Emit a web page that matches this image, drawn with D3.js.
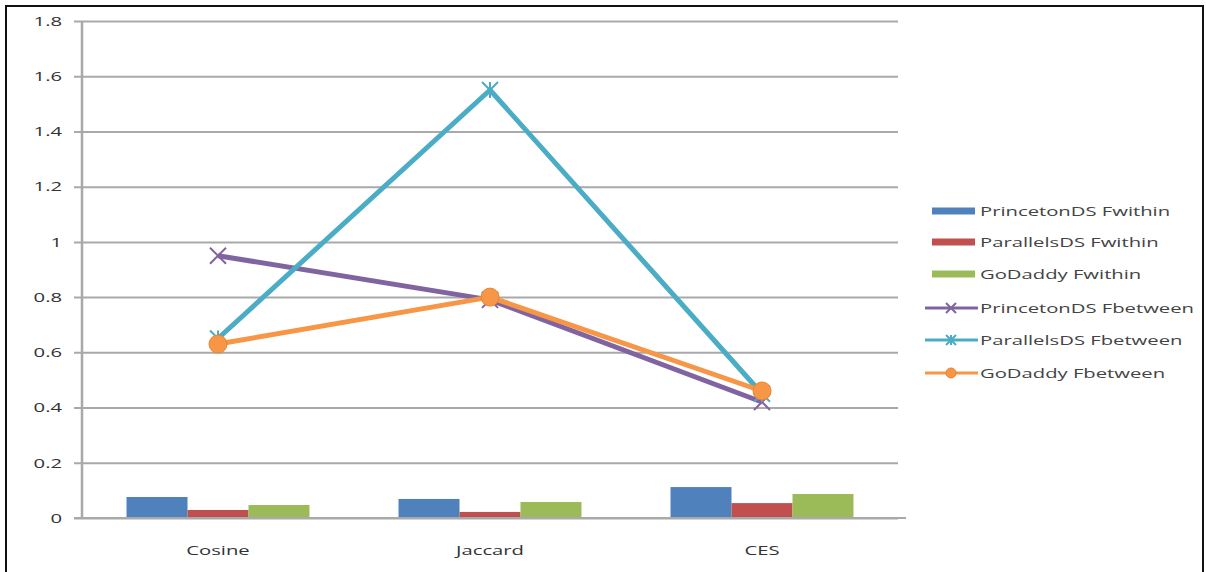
<!DOCTYPE html>
<html>
<head>
<meta charset="utf-8">
<script src="https://cdn.jsdelivr.net/npm/d3@7/dist/d3.min.js"></script>
<style>
  html, body { margin: 0; padding: 0; background: #fff; }
  svg { display: block; }
  text { font-family: "Open Sans", "DejaVu Sans", sans-serif; }
</style>
</head>
<body>
<svg id="chart" width="1206" height="572"></svg>
<script>
// Similarity measures on the x axis
const categories = ["Cosine", "Jaccard", "CES"];

// Within-cluster scores (bars)
const princetonWithin = [0.076, 0.069, 0.112];
const parallelsWithin = [0.029, 0.022, 0.054];
const godaddyWithin   = [0.047, 0.058, 0.087];

// Between-cluster scores (lines)
const princetonBetween = [0.95, 0.79, 0.42];
const parallelsBetween = [0.65, 1.55, 0.45];
const godaddyBetween   = [0.63, 0.80, 0.46];

const yTicks = [0, 0.2, 0.4, 0.6, 0.8, 1, 1.2, 1.4, 1.6, 1.8];

const barSeries = [
  { name: "PrincetonDS Fwithin", values: princetonWithin, color: "#4F81BD" },
  { name: "ParallelsDS Fwithin", values: parallelsWithin, color: "#C0504D" },
  { name: "GoDaddy Fwithin",     values: godaddyWithin,   color: "#9BBB59" }
];
const lineSeries = [
  { name: "PrincetonDS Fbetween", values: princetonBetween, color: "#8064A2", marker: "x" },
  { name: "ParallelsDS Fbetween", values: parallelsBetween, color: "#4BACC6", marker: "star" },
  { name: "GoDaddy Fbetween",     values: godaddyBetween,   color: "#F79646", marker: "circle" }
];

// text in this chart is set wide
const STRETCH = 1.5;
const FONT = 13.5;

const svg = d3.select("#chart");

// outer frame
svg.append("rect")
  .attr("x", 6).attr("y", 6).attr("width", 1197).attr("height", 580)
  .attr("fill", "none").attr("stroke", "#111").attr("stroke-width", 2);

const plot = { left: 82, right: 898, top: 21, bottom: 518 };

const x = d3.scaleBand().domain(categories).range([plot.left, plot.right]);
const xInner = d3.scaleBand().domain(barSeries.map(s => s.name))
  .range([0, x.bandwidth()]).paddingOuter(0.73).paddingInner(0);
const y = d3.scaleLinear().domain([0, 1.8]).range([plot.bottom, plot.top]);

function wideText(g, px, py, anchor, str, fill) {
  return g.append("text")
    .attr("transform", `translate(${px},${py}) scale(${STRETCH},1)`)
    .attr("text-anchor", anchor)
    .attr("font-size", FONT).attr("fill", fill)
    .text(str);
}

// horizontal gridlines with tick labels
const grid = svg.append("g")
  .attr("transform", `translate(${plot.left - 8},0)`)
  .call(d3.axisLeft(y).tickValues(yTicks)
    .tickSize(-(plot.right + 8 - plot.left))
    .tickFormat(d => d3.format("~g")(d)));
grid.select(".domain").remove();
grid.selectAll(".tick line").attr("stroke", "#a9a9a9").attr("stroke-width", 2);
grid.selectAll(".tick text")
  .attr("x", -12 / STRETCH)
  .attr("transform", `scale(${STRETCH},1)`)
  .attr("fill", "#333").attr("font-size", FONT)
  .attr("font-family", "\"Open Sans\", sans-serif");

// vertical axis line
svg.append("line")
  .attr("x1", plot.left).attr("x2", plot.left)
  .attr("y1", y(1.8)).attr("y2", y(0))
  .attr("stroke", "#a9a9a9").attr("stroke-width", 2.5);

// bars
const groups = svg.append("g").selectAll("g")
  .data(barSeries).join("g").attr("fill", d => d.color);
groups.selectAll("rect")
  .data(s => s.values.map((v, i) => ({ s, v, c: categories[i] })))
  .join("rect")
  .attr("x", d => x(d.c) + xInner(d.s.name))
  .attr("width", xInner.bandwidth())
  .attr("y", d => y(d.v))
  .attr("height", d => y(0) - y(d.v));

// baseline redrawn over bars
svg.append("line")
  .attr("x1", plot.left - 8).attr("x2", plot.right + 8)
  .attr("y1", y(0)).attr("y2", y(0))
  .attr("stroke", "#a9a9a9").attr("stroke-width", 2);

// category labels
const catG = svg.append("g");
categories.forEach(c => wideText(catG, x(c) + x.bandwidth() / 2, 555, "middle", c, "#333"));

function drawMarker(g, type, color, cx, cy, s) {
  if (type === "x") {
    g.append("path")
      .attr("d", `M${cx - s},${cy - s}L${cx + s},${cy + s}M${cx - s},${cy + s}L${cx + s},${cy - s}`)
      .attr("stroke", color).attr("stroke-width", 2).attr("fill", "none");
  } else if (type === "star") {
    g.append("path")
      .attr("d", `M${cx - s},${cy - s}L${cx + s},${cy + s}M${cx - s},${cy + s}L${cx + s},${cy - s}M${cx},${cy - s}L${cx},${cy + s}`)
      .attr("stroke", color).attr("stroke-width", 2).attr("fill", "none");
  } else {
    g.append("circle").attr("cx", cx).attr("cy", cy).attr("r", s)
      .attr("fill", color).attr("stroke", "#e8852a").attr("stroke-width", 1);
  }
}

const line = d3.line()
  .x((d, i) => x(categories[i]) + x.bandwidth() / 2)
  .y(d => y(d));

lineSeries.forEach(s => {
  const g = svg.append("g");
  g.append("path").datum(s.values)
    .attr("d", line).attr("fill", "none")
    .attr("stroke", s.color).attr("stroke-width", 5)
    .attr("stroke-linejoin", "round");
  s.values.forEach((v, i) => {
    drawMarker(g, s.marker, s.color, x(categories[i]) + x.bandwidth() / 2, y(v), s.marker === "circle" ? 9 : 8);
  });
});

// legend
const legend = svg.append("g").attr("transform", "translate(925,0)");
const rowsY = [211, 242, 274, 308, 340, 373];
barSeries.forEach((s, i) => {
  legend.append("rect").attr("x", 7).attr("y", rowsY[i] - 3.5)
    .attr("width", 43).attr("height", 7).attr("fill", s.color);
  wideText(legend, 55, rowsY[i] + 5, "start", s.name, "#444");
});
lineSeries.forEach((s, j) => {
  const ry = rowsY[j + 3];
  const g = legend.append("g");
  g.append("line").attr("x1", 0).attr("x2", 53).attr("y1", ry).attr("y2", ry)
    .attr("stroke", s.color).attr("stroke-width", 3);
  drawMarker(g, s.marker, s.color, 26, ry, 5);
  wideText(legend, 55, ry + 5, "start", s.name, "#444");
});
</script>
</body>
</html>
